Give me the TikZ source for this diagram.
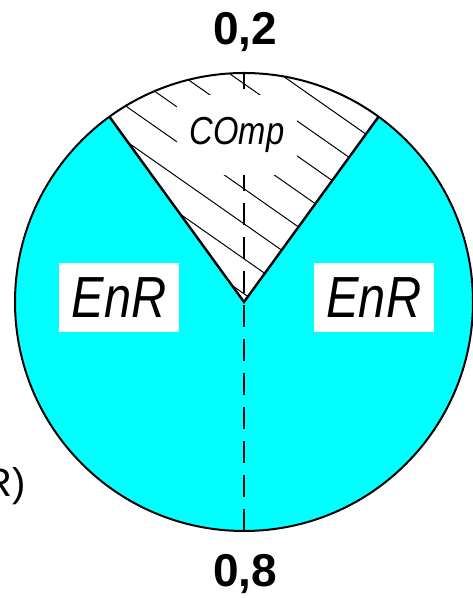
\documentclass[tikz,border=0pt]{standalone}
\usepackage{fontspec}
\setmainfont{Liberation Sans}
\newfontfamily\narrowsf[FakeStretch=0.84]{Liberation Sans}
\definecolor{piecyan}{RGB}{0,255,255}
\usetikzlibrary{positioning}

\begin{document}
\begin{tikzpicture}[x=0.5pt, y=0.5pt,
    share/.style={inner sep=0pt, anchor=base, font=\fontsize{23}{27}\selectfont\bfseries},
    partbox/.style={rectangle, fill=white, minimum width=60pt, minimum height=34.5pt, inner sep=0pt, font=\narrowsf\itshape\fontsize{29}{34}\selectfont},
    compbox/.style={rectangle, fill=white, minimum width=60pt, minimum height=40pt, inner sep=0pt, font=\narrowsf\itshape\fontsize{19.5}{23}\selectfont},
    rim/.style={line width=1pt, black},
    edge/.style={line width=1.2pt, black},
    hatch/.style={line width=0.5pt, black},
    axis/.style={line width=1pt, black, dash pattern=on 11pt off 6pt}]

    \useasboundingbox (0,0) rectangle (472,598);

    \coordinate (apex) at (244,296);
    \coordinate (top) at (244,525);
    \coordinate (bot) at (244,67);
    \coordinate (wl) at (109.4,481.3);
    \coordinate (wr) at (378.6,481.3);

    % pie: EnR part and COmp wedge (0,2)
    \fill[piecyan] (apex) circle (229);
    \fill[white] (apex) -- (wr) arc[start angle=54, end angle=126, radius=229] -- cycle;
    \begin{scope}
        \clip (apex) -- (wr) arc[start angle=54, end angle=126, radius=229] -- cycle;
        \foreach \c in {123,88,...,-157}
            \draw[hatch] (100,{528-\c}) -- (400,{318-\c});
    \end{scope}

    \draw[axis] (bot) -- (top);
    \draw[edge] (wl) -- (apex) -- (wr);
    \draw[rim] (apex) circle (229);

    % labels
    \node[compbox] (comp) at (237,463) {COmp};
    \node[partbox] (enrL) at (119,300) {EnR};
    \node[partbox, right=67pt of enrL] (enrR) {EnR};
    \node[share] (p02) at (245,553) {0,2};
    \node[share] (p08) at (245,11) {0,8};
    \node[inner sep=0pt, anchor=base east, font=\fontsize{20}{24}\selectfont] (cut) at (26,101) {R)};
\end{tikzpicture}
\end{document}
